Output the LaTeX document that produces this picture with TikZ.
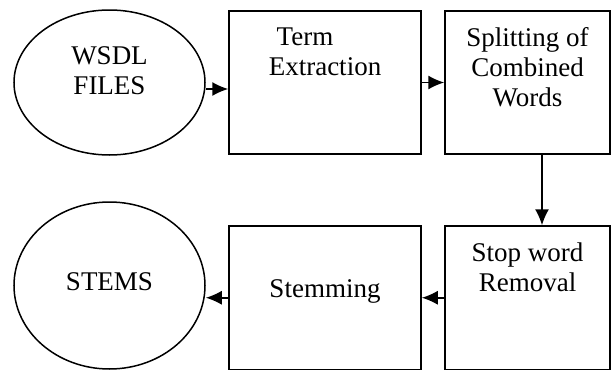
\documentclass[tikz,border=0pt]{standalone}
\usepackage{fontspec}
\setmainfont{Liberation Serif}
\usetikzlibrary{shapes.geometric}
\usetikzlibrary{positioning}
\usetikzlibrary{arrows.meta}
\tikzset{
  stepbox/.style={draw, line width=0.75pt, rectangle, inner sep=0pt},
  datafile/.style={draw, line width=0.75pt, ellipse, inner sep=0pt, minimum width=95.5pt},
  boxtext/.style={align=center, inner sep=0pt, font=\fontsize{13.5}{15}\selectfont},
}

\begin{document}
\begin{tikzpicture}[x=0.5pt, y=-0.5pt]

                \useasboundingbox (0,0) rectangle (611,370);

                \node[datafile, minimum height=72.5pt] (wsdl) at (109.5,82.5){};
                \node[boxtext, below=18.5pt of wsdl.north] (wsdltext){WSDL\\FILES};

                \node[stepbox, minimum width=96pt, minimum height=71.5pt] (term) at (325,82.5){};
                \node[boxtext, below=8.5pt of term.north] (termtext){Term\kern20pt\\Extraction};

                \node[stepbox, minimum width=82.5pt, minimum height=71.5pt] (split) at (527.5,82.5){};
                \node[boxtext, below=8.5pt of split.north] (splittext){Splitting of\\Combined\\Words};

                \node[stepbox, minimum width=82.5pt, minimum height=71.75pt] (stop) at (527.5,297.75){};
                \node[boxtext, below=8.5pt of stop.north] (stoptext){Stop word\\Removal};

                \node[stepbox, minimum width=96pt, minimum height=71.75pt] (stem) at (325,297.75){};
                \node[boxtext, below=27pt of stem.north] (stemtext){Stemming};

                \node[datafile, minimum height=83.5pt] (stems) at (109.5,285.5){};
                \node[boxtext, below=35.5pt of stems.north] (stemstext){STEMS};

                \draw[->, >={Latex[length=8pt,width=7pt]}, line width=0.75pt] ([yshift=-3.25pt]wsdl.east) -- ([yshift=-3.25pt]wsdl.east -| term.west);
                \draw[->, >={Latex[length=8pt,width=7pt]}, line width=0.75pt] (term.east) -- (split.west);
                \draw[->, >={Latex[length=8pt,width=7pt]}, line width=0.75pt] ([xshift=7.25pt]split.south) -- ([xshift=7.25pt]stop.north);
                \draw[->, >={Latex[length=8pt,width=7pt]}, line width=0.75pt] (stop.west) -- (stem.east);
                \draw[->, >={Latex[length=8pt,width=7pt]}, line width=0.75pt] (stem.west) -- (stem.west -| stems.east);

        \end{tikzpicture}
\end{document}
